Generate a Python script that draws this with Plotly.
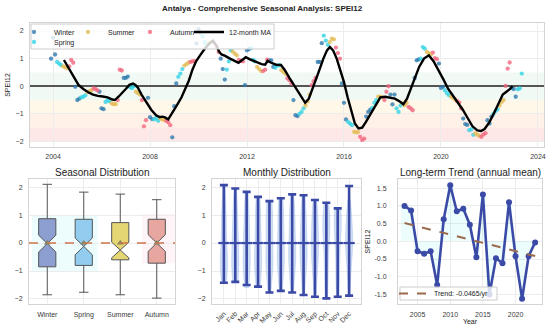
import numpy as np
import plotly.graph_objects as go

# ---------------- data ----------------
# Monthly SPEI12 for Antalya, first value = Dec 2003, last = May 2023
spei_start_year = 2003
spei_start_month = 12
spei_monthly = [
    1.00,                                                                        # 2003 Dec
    1.75, 1.15, 0.88, 0.82, 0.76, 0.72, 0.68, 0.66, 0.72, 0.95, 0.85, -0.02,      # 2004
    -0.50, -0.45, -0.40, -0.38, -0.33, -0.22, -0.18, -0.15, -0.08, -0.10, -0.15, -0.20,  # 2005
    -0.80, -0.83, -0.57, -0.50, -0.55, -0.62, -0.65, -0.65, -0.50, 0.60, 0.57, 0.30,     # 2006
    0.30, 0.35, -0.02, -0.07, 0.00, -0.20, -0.25, -0.30, -0.50, -1.45, -1.23, -0.42,     # 2007
    -1.12, -1.19, -1.20, -1.15, -1.25, -1.15, -1.20, -1.22, -1.25, -1.30, -1.41, -1.85,  # 2008
    -0.72, 0.10, 0.34, 0.46, 0.62, 0.75, 0.80, 0.85, 0.88, 0.90, 0.91, 1.55,            # 2009
    2.07, 1.95, 1.80, 1.60, 1.50, 1.55, 1.60, 1.60, 1.54, 1.44, 1.24, 1.00,             # 2010
    0.62, 0.24, 0.60, 0.90, 1.30, 1.25, 1.18, 1.12, 0.95, 0.92, 0.90, 0.04,             # 2011
    1.30, 1.35, 1.38, 0.95, 0.90, 0.70, 0.62, 0.55, 0.55, 0.60, 0.96, 0.94,             # 2012
    0.94, 0.70, 0.67, 0.75, 0.76, 0.58, 0.52, 0.45, 0.29, 0.22, 0.10, -0.50,            # 2013
    -1.05, -1.08, -1.00, -0.93, -0.80, -0.70, -0.55, -0.30, 0.04, 0.18, 0.30, 0.88,     # 2014
    0.88, 1.56, 1.83, 1.65, 1.50, 1.60, 1.72, 1.70, 1.40, 1.20, 1.00, 0.10,             # 2015
    -0.60, -1.20, -1.29, -1.35, -1.41, -1.65, -1.67, -1.66, -1.83, -1.95, -1.90, -1.10,  # 2016
    -0.93, -0.85, -0.78, -0.60, -0.50, -0.38, -0.38, -0.40, -0.50, -0.20, 0.00, -0.30,   # 2017
    -0.66, -0.30, -0.80, -0.93, -0.70, -0.62, -0.69, -0.60, -0.75, -0.80, -0.87, 0.30,   # 2018
    0.94, 0.97, 1.00, 1.42, 1.36, 1.24, 1.20, 1.14, 1.22, 1.02, 0.98, 0.82,             # 2019
    -0.06, -0.02, -0.15, -0.25, -0.33, -0.38, -0.42, -0.48, -0.54, -0.59, -0.80, -1.17,  # 2020
    -1.37, -1.40, -1.59, -1.56, -1.76, -1.71, -1.76, -1.80, -1.83, -1.75, -1.70, -1.23,  # 2021
    -1.35, -1.10, -1.00, -0.90, -0.84, -0.70, -0.57, -0.50, 0.01, 0.64, 0.86, -0.06,     # 2022
    -0.10, -0.38, -0.11, -0.08, 0.46,                                                    # 2023
]

# 12-month moving average (decimal year, value)
ma_years = [2004.45, 2004.6, 2004.75, 2004.9, 2005.05, 2005.25, 2005.45, 2005.65, 2005.85,
            2006.05, 2006.25, 2006.45, 2006.55, 2006.7, 2006.85, 2007.0, 2007.15, 2007.3,
            2007.4, 2007.5, 2007.65, 2007.85, 2008.05, 2008.25, 2008.4, 2008.5, 2008.6,
            2008.75, 2008.9, 2009.1, 2009.3, 2009.45, 2009.6, 2009.75, 2009.9, 2010.05,
            2010.25, 2010.45, 2010.6, 2010.75, 2010.85, 2010.95, 2011.1, 2011.3, 2011.5,
            2011.65, 2011.8, 2011.95, 2012.1, 2012.3, 2012.45, 2012.6, 2012.75, 2012.85,
            2013.0, 2013.2, 2013.4, 2013.55, 2013.75, 2014.0, 2014.2, 2014.4, 2014.55,
            2014.75, 2014.95, 2015.15, 2015.3, 2015.42, 2015.55, 2015.7, 2015.85, 2016.0,
            2016.15, 2016.3, 2016.45, 2016.6, 2016.75, 2016.9, 2017.1, 2017.3, 2017.5,
            2017.7, 2017.9, 2018.1, 2018.3, 2018.45, 2018.6, 2018.75, 2018.9, 2019.1,
            2019.3, 2019.5, 2019.7, 2019.9, 2020.1, 2020.3, 2020.5, 2020.7, 2020.9,
            2021.1, 2021.3, 2021.5, 2021.65, 2021.8, 2022.0, 2022.2, 2022.4, 2022.55,
            2022.7, 2022.85, 2022.95]
ma_values = [0.95, 0.72, 0.50, 0.25, 0.05, -0.10, -0.22, -0.30, -0.35,
             -0.37, -0.40, -0.48, -0.50, -0.38, -0.25, -0.10, 0.05, 0.10,
             0.05, -0.05, -0.30, -0.60, -0.85, -1.05, -1.12, -1.10, -1.12,
             -1.20, -1.00, -0.70, -0.40, -0.10, 0.20, 0.60, 0.90, 1.10,
             1.35, 1.55, 1.65, 1.45, 1.25, 1.15, 1.10, 1.00, 0.90,
             0.85, 0.95, 1.05, 0.98, 0.90, 0.85, 0.80, 0.78, 0.92,
             0.85, 0.78, 0.77, 0.60, 0.30, -0.05, -0.35, -0.60, -0.45,
             0.00, 0.50, 1.00, 1.30, 1.42, 1.30, 1.00, 0.60, 0.15,
             -0.40, -0.90, -1.35, -1.53, -1.50, -1.30, -1.00, -0.70, -0.40,
             -0.38, -0.42, -0.45, -0.55, -0.65, -0.45, -0.10, 0.20, 0.70,
             1.00, 1.12, 0.90, 0.60, 0.25, -0.10, -0.35, -0.60, -0.85,
             -1.15, -1.45, -1.60, -1.62, -1.55, -1.30, -0.95, -0.55, -0.30,
             -0.20, -0.10, 0.01]

# Seasonal box statistics
seasons = ["Winter", "Spring", "Summer", "Autumn"]
season_q1 = [-0.85, -0.80, -0.60, -0.72]
season_median = [-0.02, -0.12, -0.25, 0.00]
season_q3 = [0.87, 0.85, 0.73, 0.85]
season_low = [-1.85, -1.76, -1.85, -1.97]
season_high = [2.10, 1.82, 1.75, 1.55]
season_mean = [0.00, 0.00, 0.00, 0.00]
season_notch = [0.30, 0.30, 0.28, 0.30]
overall_mean = 0.0

# Monthly distribution extrema and means
months = ["Jan", "Feb", "Mar", "Apr", "May", "Jun", "Jul", "Aug", "Sep", "Oct", "Nov", "Dec"]
month_max = [2.07, 1.95, 1.83, 1.65, 1.50, 1.60, 1.74, 1.71, 1.54, 1.44, 1.24, 2.04]
month_min = [-1.42, -1.39, -1.50, -1.56, -1.77, -1.71, -1.77, -1.86, -1.92, -1.98, -1.92, -1.88]
month_mean = [0.0] * 12

# Annual means
ann_years = list(range(2003, 2024))
ann_means = [1.00, 0.87, -0.28, -0.35, -0.28, -1.23, 0.62, 1.58, 0.85, 0.92, 0.47,
             -0.45, 1.32, -1.50, -0.48, -0.62, 1.10, -0.42, -1.62, -0.42, -0.03]
trend_label = "Trend: -0.0465/yr"

# ---------------- derived ----------------
xs, ms = [], []
y, m = spei_start_year, spei_start_month
for v in spei_monthly:
    xs.append(y + (m - 1) / 12.0)
    ms.append(m)
    m += 1
    if m > 12:
        m = 1
        y += 1
season_of = {12: "Winter", 1: "Winter", 2: "Winter", 3: "Spring", 4: "Spring", 5: "Spring",
             6: "Summer", 7: "Summer", 8: "Summer", 9: "Autumn", 10: "Autumn", 11: "Autumn"}
season_colors = {"Winter": "#2b79ad", "Spring": "#2fd2e6", "Summer": "#e3bb52", "Autumn": "#f2647c"}
season_legend = {"Winter": "legend", "Summer": "legend2", "Autumn": "legend3", "Spring": "legend5"}
box_fill = ["#8d9fd0", "#92cdf0", "#e4d673", "#e8a6a0"]
blue = "#3b4aa6"
FONT = "Liberation Sans, Arial, sans-serif"
W, H = 550, 331

def px(x):
    return x / W

def py(yv):
    return 1 - yv / H

fig = go.Figure()

# ---- top panel: scatter by season ----
for s in seasons:
    sx = [x for x, mm in zip(xs, ms) if season_of[mm] == s]
    sy = [v for v, mm in zip(spei_monthly, ms) if season_of[mm] == s]
    fig.add_trace(go.Scatter(
        x=sx, y=sy, mode="markers", name=s,
        marker=dict(size=4.3, color=season_colors[s], opacity=0.78, line=dict(width=0)),
        legend=season_legend[s], xaxis="x", yaxis="y"))
fig.add_trace(go.Scatter(x=ma_years, y=ma_values, mode="lines", name="12-month MA",
                         line=dict(color="black", width=2.4), legend="legend4",
                         xaxis="x", yaxis="y"))

# ---- seasonal boxes ----
for i, s in enumerate(seasons):
    fig.add_trace(go.Box(
        x=[i], q1=[season_q1[i]], median=[season_median[i]], q3=[season_q3[i]],
        lowerfence=[season_low[i]], upperfence=[season_high[i]],
        notched=True, notchspan=[season_notch[i]], notchwidth=0.5,
        width=0.47, whiskerwidth=0.55, fillcolor=box_fill[i],
        line=dict(color="#555555", width=1), boxpoints=False,
        showlegend=False, xaxis="x2", yaxis="y2", hoverinfo="skip"))
fig.add_trace(go.Scatter(x=list(range(4)), y=season_mean, mode="markers",
                         marker=dict(symbol="triangle-up", size=6, color="#7b8466"),
                         showlegend=False, xaxis="x2", yaxis="y2"))

# ---- monthly violins ----
for i in range(12):
    vals = [v for v, mm in zip(spei_monthly, ms) if mm == i + 1]
    fig.add_trace(go.Violin(
        x=[i] * len(vals), y=vals, spanmode="hard", points=False,
        fillcolor="rgba(125,165,225,0.38)", line=dict(width=0.6, color="rgba(125,165,225,0.45)"),
        scalemode="width", showlegend=False, hoverinfo="skip",
        xaxis="x3", yaxis="y3"))
fig.add_trace(go.Scatter(
    x=list(range(12)), y=month_mean, mode="markers",
    marker=dict(symbol="line-ew", size=8, line=dict(width=2.2, color=blue)),
    error_y=dict(type="data", symmetric=False,
                 array=[mx - mn for mx, mn in zip(month_max, month_mean)],
                 arrayminus=[mn - lo for mn, lo in zip(month_mean, month_min)],
                 color=blue, thickness=2.6, width=4),
    showlegend=False, xaxis="x3", yaxis="y3"))

# ---- annual trend ----
fig.add_trace(go.Bar(x=ann_years, y=ann_means, width=1.0,
                     marker=dict(color="rgba(0,225,235,0.08)", line=dict(width=0)),
                     showlegend=False, xaxis="x4", yaxis="y4", hoverinfo="skip"))
fig.add_trace(go.Scatter(x=ann_years, y=ann_means, mode="lines+markers",
                         line=dict(color=blue, width=2.6), marker=dict(size=6, color=blue),
                         showlegend=False, xaxis="x4", yaxis="y4"))
coef = np.polyfit(ann_years, ann_means, 1)
trend_y = [float(v) for v in np.polyval(coef, ann_years)]
fig.add_trace(go.Scatter(x=ann_years, y=trend_y, mode="lines", name=trend_label,
                         line=dict(color="#9c6a4c", width=2, dash="dash"),
                         legend="legend6", xaxis="x4", yaxis="y4"))

# ---------------- layout ----------------
grid = "#ececec"
frame = "#d4d4d4"
tick_font = dict(family=FONT, size=7, color="#3a3a3a")
common = dict(showgrid=True, gridcolor=grid, gridwidth=0.8, showline=True, mirror=True,
              linecolor=frame, linewidth=1, ticks="", tickfont=tick_font, automargin=False)

shapes = []
bands = [(-0.5, 0.5, "rgba(120,200,150,0.10)"),
         (-1.0, -0.5, "rgba(255,205,110,0.16)"),
         (-1.5, -1.0, "rgba(255,170,110,0.17)"),
         (-2.0, -1.5, "rgba(250,120,120,0.18)")]
for y0, y1, c in bands:
    shapes.append(dict(type="rect", xref="x domain", yref="y", x0=0, x1=1, y0=y0, y1=y1,
                       fillcolor=c, line=dict(width=0), layer="below"))
# legend backgrounds
shapes.append(dict(type="rect", xref="paper", yref="paper", x0=px(31), x1=px(274),
                   y0=py(49), y1=py(24), fillcolor="rgba(255,255,255,0.8)",
                   line=dict(color="#cccccc", width=1), layer="above"))
shapes.append(dict(type="rect", xref="paper", yref="paper", x0=px(400), x1=px(497),
                   y0=py(300), y1=py(287), fillcolor="rgba(255,255,255,0.8)",
                   line=dict(color="#cccccc", width=1), layer="above"))
# seasonal panel shading and mean line
shapes.append(dict(type="rect", xref="x2", yref="y2", x0=-0.42, x1=1.38, y0=-1, y1=1,
                   fillcolor="rgba(0,230,240,0.07)", line=dict(width=0), layer="below"))
shapes.append(dict(type="rect", xref="x2", yref="y2", x0=2.6, x1=3.5, y0=-0.72, y1=1.05,
                   fillcolor="rgba(255,120,170,0.08)", line=dict(width=0), layer="below"))
shapes.append(dict(type="line", xref="x2", yref="y2", x0=-0.5, x1=3.5,
                   y0=overall_mean, y1=overall_mean,
                   line=dict(color="#cf7648", width=1.6, dash="dash"), layer="above"))

def title_ann(text, x, y, size, bold=False):
    return dict(text=("<b>%s</b>" % text) if bold else text, x=px(x), y=py(y),
                xref="paper", yref="paper", xanchor="center", yanchor="middle",
                showarrow=False, font=dict(family=FONT, size=size, color="#222"))

annotations = [
    title_ann("Antalya - Comprehensive Seasonal Analysis: SPEI12", 262, 9, 8, bold=True),
    title_ann("Seasonal Distribution", 102, 172, 10),
    title_ann("Monthly Distribution", 286.5, 172, 10),
    title_ann("Long-term Trend (annual mean)", 470, 172, 10),
]

leg_font = dict(family=FONT, size=7, color="#222")

def leg(x_left, row_center):
    return dict(orientation="h", x=px(x_left), y=py(row_center - 14.5), xanchor="left",
                yanchor="top", bgcolor="rgba(0,0,0,0)", borderwidth=0, font=leg_font,
                itemwidth=30)

axis_title_font = dict(family=FONT, size=7, color="#222")
fig.update_layout(
    width=W, height=H, margin=dict(l=0, r=0, t=0, b=0, autoexpand=False),
    paper_bgcolor="white", plot_bgcolor="white",
    font=dict(family=FONT, size=7, color="#333"),
    boxmode="overlay", violinmode="overlay", violingap=0.1, bargap=0,
    xaxis=dict(domain=[px(30), px(544)], range=[2003.05, 2024.25],
               tickvals=[2004, 2008, 2012, 2016, 2020, 2024],
               ticktext=["2004", "2008", "2012", "2016", "2020", "2024"],
               anchor="y", zeroline=False, ticklabelstandoff=3, **common),
    yaxis=dict(domain=[py(147), py(23)], range=[-2.2, 2.29], tickvals=[-2, -1, 0, 1, 2],
               zeroline=True, zerolinecolor="#555555", zerolinewidth=1.5, ticklabelstandoff=4,
               title=dict(text="SPEI12", font=axis_title_font, standoff=4), anchor="x", **common),
    xaxis2=dict(domain=[px(29), px(175)], range=[-0.5, 3.5], tickvals=[0, 1, 2, 3],
                ticktext=seasons, anchor="y2", zeroline=False, ticklabelstandoff=4, **common),
    yaxis2=dict(domain=[py(304), py(179)], range=[-2.18, 2.29], tickvals=[-2, -1, 0, 1, 2],
                anchor="x2", zeroline=False, ticklabelstandoff=4, **common),
    xaxis3=dict(domain=[px(212), px(361)], range=[-1.045, 12.045], tickvals=list(range(12)),
                ticktext=months, tickangle=-45, anchor="y3", zeroline=False,
                ticklabelstandoff=2, **common),
    yaxis3=dict(domain=[py(304), py(179)], range=[-2.18, 2.29], tickvals=[-2, -1, 0, 1, 2],
                anchor="x3", zeroline=False, ticklabelstandoff=4, **common),
    xaxis4=dict(domain=[px(398), px(542)], range=[2002, 2024.05], tickvals=[2005, 2010, 2015, 2020],
                title=dict(text="Year", font=axis_title_font, standoff=1), anchor="y4",
                zeroline=False, ticklabelstandoff=4, **common),
    yaxis4=dict(domain=[py(304), py(179)], range=[-1.77, 1.76],
                tickvals=[-1.5, -1.0, -0.5, 0.0, 0.5, 1.0, 1.5],
                ticktext=["-1.5", "-1.0", "-0.5", "0.0", "0.5", "1.0", "1.5"],
                ticklabelstandoff=9,
                title=dict(text="SPEI12", font=axis_title_font, standoff=3), anchor="x4",
                zeroline=False, **common),
    legend=leg(14, 32),
    legend2=leg(68, 32),
    legend3=leg(130, 32),
    legend4=leg(189, 32),
    legend5=leg(14, 42),
    legend6=leg(394, 293.5),
    shapes=shapes, annotations=annotations,
)

fig.write_html("out.html", config={"displayModeBar": False},
               post_script="document.body.style.margin='0px';")
